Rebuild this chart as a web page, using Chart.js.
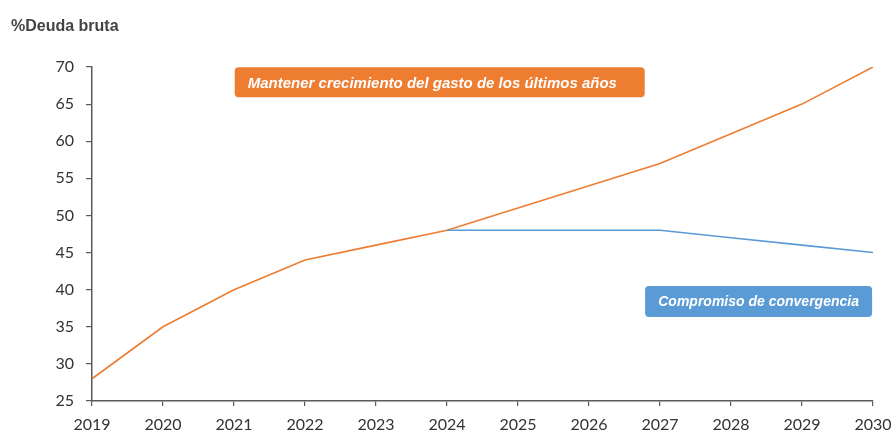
<!DOCTYPE html>
<html>
<head>
<meta charset="utf-8">
<script src="https://cdn.jsdelivr.net/npm/chart.js@4/dist/chart.umd.min.js"></script>
<style>
  html, body { margin: 0; padding: 0; background: #fff; }
  #wrap { width: 896px; height: 434px; }
</style>
</head>
<body>
<div id="wrap"><canvas id="deudaChart"></canvas></div>
<script>
// ==== Datos ====
const years = ["2019", "2020", "2021", "2022", "2023", "2024", "2025", "2026", "2027", "2028", "2029", "2030"];
const gastoTendencial = [28, 35, 40, 44, 46, 48, 51, 54, 57, 61, 65, 70];
const convergencia = [null, null, null, null, null, 48, 48, 48, 48, 47, 46, 45];
const yMin = 25, yMax = 70, yStep = 5;

const ORANGE = "#ed7d31";
const BLUE = "#5b9bd5";
const AXIS = "#5a5a5a";
const TEXT = "#333333";

// cajas de texto sobre el gráfico (ancladas a índice de año / valor)
const notes = [
  { text: "Mantener crecimiento del gasto de los últimos años", color: ORANGE, xIdx: 2.01, yVal: 69.95, w: 410, h: 30, size: 15, align: "left" },
  { text: "Compromiso de convergencia", color: BLUE, xIdx: 7.79, yVal: 40.5, w: 227, h: 31, size: 14, align: "center" }
];

// ==== Plugins ====
const titlePlugin = {
  id: "yTitle",
  afterDraw(chart) {
    const ctx = chart.ctx;
    ctx.save();
    ctx.font = "bold 16px 'Liberation Sans', Arial, sans-serif";
    ctx.fillStyle = "#444";
    ctx.textBaseline = "middle";
    ctx.fillText("%Deuda bruta", 11, 27);
    ctx.restore();
  }
};

const notesPlugin = {
  id: "notes",
  afterDatasetsDraw(chart) {
    const ctx = chart.ctx;
    const xs = chart.scales.x, ys = chart.scales.y;
    ctx.save();
    notes.forEach(n => {
      const left = xs.getPixelForValue(n.xIdx);
      const top = ys.getPixelForValue(n.yVal);
      ctx.fillStyle = n.color;
      ctx.beginPath();
      ctx.roundRect(left, top, n.w, n.h, 4);
      ctx.fill();
      ctx.fillStyle = "#fff";
      ctx.font = "italic bold " + n.size + "px 'Liberation Sans', Arial, sans-serif";
      ctx.textBaseline = "middle";
      if (n.align === "center") {
        ctx.textAlign = "center";
        ctx.fillText(n.text, left + n.w / 2, top + n.h / 2 + 1);
      } else {
        ctx.textAlign = "left";
        ctx.fillText(n.text, left + 13, top + n.h / 2 + 1);
      }
    });
    ctx.restore();
  }
};

// ==== Gráfico ====
const ctx = document.getElementById("deudaChart").getContext("2d");
new Chart(ctx, {
  type: "line",
  data: {
    labels: years,
    datasets: [
      { label: "Compromiso de convergencia", data: convergencia, borderColor: BLUE, borderWidth: 1.6, pointRadius: 0, tension: 0, fill: false, spanGaps: false },
      { label: "Mantener crecimiento del gasto", data: gastoTendencial, borderColor: ORANGE, borderWidth: 1.6, pointRadius: 0, tension: 0, fill: false }
    ]
  },
  options: {
    responsive: true,
    maintainAspectRatio: false,
    animation: false,
    layout: { padding: { top: 67, right: 23, bottom: 0, left: 0 } },
    plugins: {
      legend: { display: false },
      tooltip: { enabled: false }
    },
    scales: {
      x: {
        offset: false,
        afterFit(scale) { scale.height = 33; scale.paddingLeft = 0; scale.paddingRight = 0; },
        grid: { display: true, drawOnChartArea: false, drawTicks: true, tickLength: 5, color: AXIS, lineWidth: 1.2 },
        border: { display: true, color: AXIS, width: 1.5 },
        ticks: { color: TEXT, font: { family: "Lato, 'Open Sans', sans-serif", size: 16 }, padding: 9, maxRotation: 0, autoSkip: false }
      },
      y: {
        min: yMin,
        max: yMax,
        afterFit(scale) { scale.width = 92; },
        grid: { display: true, drawOnChartArea: false, drawTicks: true, tickLength: 6, color: AXIS, lineWidth: 1.2 },
        border: { display: true, color: AXIS, width: 1.5 },
        ticks: { stepSize: yStep, color: TEXT, font: { family: "Lato, 'Open Sans', sans-serif", size: 16 }, padding: 12 }
      }
    }
  },
  plugins: [titlePlugin, notesPlugin]
});
</script>
</body>
</html>
